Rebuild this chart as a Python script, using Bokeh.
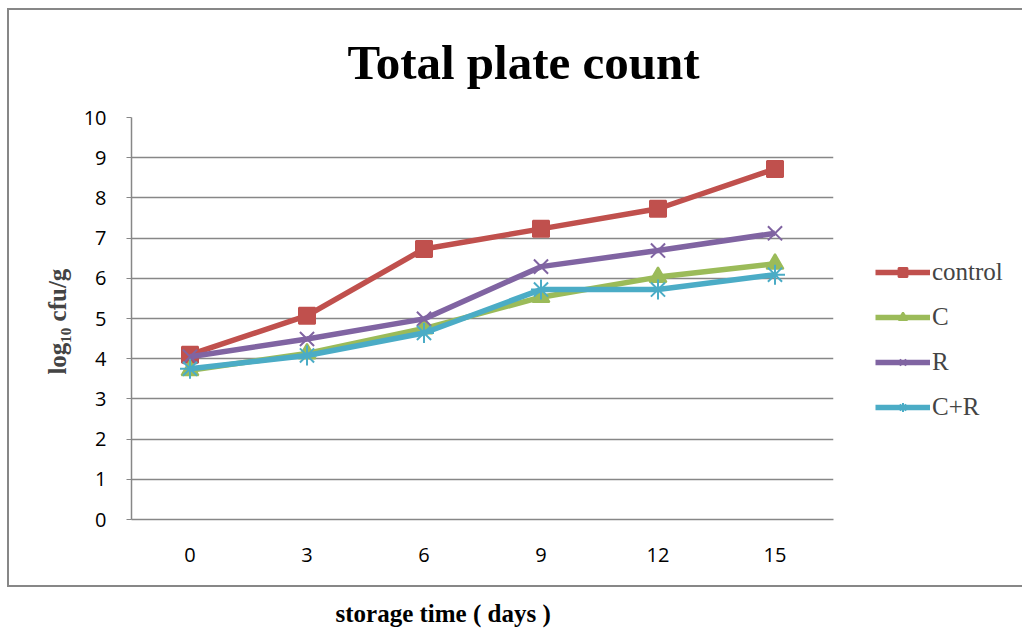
from bokeh.plotting import figure
from bokeh.models import (ColumnDataSource, Legend, LegendItem, Title,
                          FixedTicker, Range1d)
from bokeh.embed import file_html
from bokeh.resources import INLINE

days = ["0", "3", "6", "9", "12", "15"]
control = [4.10, 5.07, 6.73, 7.23, 7.73, 8.72]
c_vals = [3.71, 4.13, 4.75, 5.53, 6.03, 6.36]
r_vals = [4.05, 4.49, 4.99, 6.29, 6.69, 7.12]
cr_vals = [3.75, 4.08, 4.64, 5.72, 5.72, 6.09]
y_ticks = list(range(0, 11))

series = [
    ("control", control, "#C0504D", "square", 16),
    ("C", c_vals, "#9BBB59", "triangle", 17),
    ("R", r_vals, "#8064A2", "x", 20),
    ("C+R", cr_vals, "#4BACC6", "asterisk", 20),
]

g = "linear-gradient(#878787,#878787)"
bg = (f"{g} 8px 8px / 1014px 2px no-repeat, "
      f"{g} 8px 585px / 1014px 2px no-repeat, "
      f"{g} 7px 8px / 2px 579px no-repeat, white")

p = figure(frame_width=702, frame_height=402, x_range=days, y_range=Range1d(0, 10),
           output_backend="svg", toolbar_location=None,
           min_border_left=131, min_border_right=189,
           min_border_top=117, min_border_bottom=114,
           styles={"background": bg})
p.outline_line_color = None
p.background_fill_color = "white"
p.border_fill_color = None

p.xgrid.grid_line_color = None
p.ygrid.grid_line_color = "#878787"
p.ygrid.grid_line_width = 1.5
p.yaxis.ticker = FixedTicker(ticks=y_ticks)

for ax in (p.xaxis, p.yaxis):
    ax.axis_line_color = "#878787"
    ax.axis_line_width = 1.5
    ax.major_label_text_font = "Open Sans"
    ax.major_label_text_font_size = "20px"
    ax.major_label_text_color = "black"
    ax.minor_tick_line_color = None

p.xaxis.major_tick_line_color = None
p.xaxis.major_label_standoff = 22
p.yaxis.major_tick_line_color = "#878787"
p.yaxis.major_tick_out = 5
p.yaxis.major_tick_in = 0
p.yaxis.major_label_standoff = 20

p.yaxis.axis_label = "log\u2081\u2080  cfu/g"
p.yaxis.axis_label_text_font = "Liberation Serif"
p.yaxis.axis_label_text_font_style = "bold"
p.yaxis.axis_label_text_font_size = "25px"
p.yaxis.axis_label_standoff = 10

p.title.text = "Total plate count"
p.title.text_font = "Liberation Serif"
p.title.text_font_style = "bold"
p.title.text_font_size = "49px"
p.title.align = "left"
p.title.offset = 216
p.title.standoff = 55
p.title.text_color = "black"

xlabel = Title(text="storage time ( days )", text_font="Liberation Serif",
               text_font_style="bold", text_font_size="25px", align="left",
               offset=204, text_color="black", standoff=66)
p.add_layout(xlabel, "below")

items = []
for name, vals, color, marker, size in series:
    src = ColumnDataSource(dict(x=days, y=vals))
    ln = p.line("x", "y", source=src, line_color=color, line_width=5.5)
    sc = p.scatter("x", "y", source=src, marker=marker, size=size,
                   fill_color=color, line_color=color, line_width=2)
    items.append(LegendItem(label=name, renderers=[ln, sc]))

legend = Legend(items=items, location=(42, 98), orientation="vertical",
                glyph_width=55, glyph_height=22, label_standoff=2,
                spacing=17, padding=0, margin=0,
                label_text_font="Liberation Serif", label_text_font_size="25px",
                border_line_color=None, background_fill_alpha=0)
p.add_layout(legend, "right")

open("out.html", "w").write(file_html(p, INLINE))
